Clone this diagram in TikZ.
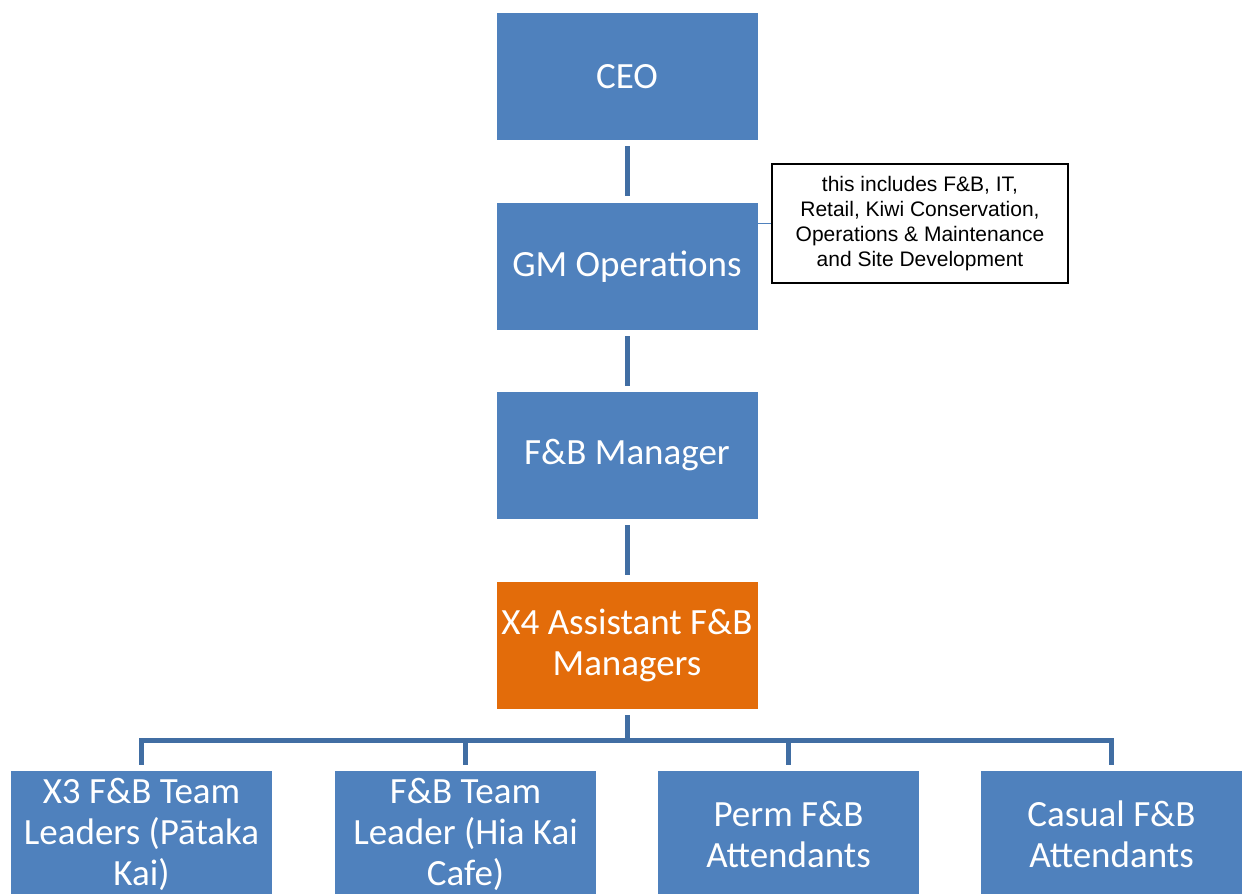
\documentclass[tikz,border=0pt]{standalone}
\usepackage{fontspec}
\setmainfont{Carlito}
\newfontfamily\arialf{Liberation Sans}
\definecolor{boxblue}{RGB}{79,129,189}
\definecolor{connblue}{RGB}{65,110,163}
\definecolor{boxorange}{RGB}{227,108,10}
\begin{document}
\begin{tikzpicture}[x=1pt,y=-1pt,
  orgbox/.style={rectangle,fill=boxblue,draw=none,minimum width=261pt,minimum height=127pt,
    inner sep=0pt,align=center,text=white,font=\fontsize{37}{41}\selectfont},
  conn/.style={draw=connblue,line width=5pt},
  notebox/.style={rectangle,draw=black,fill=white,line width=1.3pt,minimum width=296pt,minimum height=119pt,
    inner sep=0pt,align=center,font=\arialf\fontsize{21}{25}\selectfont}]
\useasboundingbox (0,0) rectangle (1248,894);
\clip (0,0) rectangle (1248,894);
\node[orgbox] (ceo) at (627,76.5) {CEO};
\node[orgbox] (gm) at (627,266.5) {GM Operations};
\node[orgbox] (fb) at (627,455.5) {F\&B Manager};
\node[orgbox,fill=boxorange] (x4) at (627,645.5) {X4 Assistant F\&B\\Managers};
\node[orgbox] (b1) at (141.5,834.5) {X3 F\&B Team\\Leaders (Pātaka\\Kai)};
\node[orgbox] (b2) at (465.5,834.5) {F\&B Team\\Leader (Hia Kai\\Cafe)};
\node[orgbox] (b3) at (788.5,834.5) {Perm F\&B\\Attendants};
\node[orgbox] (b4) at (1111.5,834.5) {Casual F\&B\\Attendants};
\node[notebox] (note) at (920,223.5) {this includes F\&B, IT,\\Retail, Kiwi Conservation,\\Operations \& Maintenance\\and Site Development};
\draw[draw=boxblue,line width=1.5pt] (gm.east |- note.west) -- (note.west);
\draw[conn] ([yshift=-6pt]ceo.south) -- ([yshift=7pt]gm.north);
\draw[conn] ([yshift=-6pt]gm.south) -- ([yshift=6pt]fb.north);
\draw[conn] ([yshift=-6pt]fb.south) -- ([yshift=7pt]x4.north);
\coordinate (bus) at (627,740);
\draw[conn] ([yshift=-6pt]x4.south) -- (bus);
\draw[conn] ([yshift=6pt]b1.north) -- (b1.north |- bus) -- (b4.north |- bus) -- ([yshift=6pt]b4.north);
\draw[conn] ([yshift=6pt]b2.north) -- (b2.north |- bus);
\draw[conn] ([yshift=6pt]b3.north) -- (b3.north |- bus);
\end{tikzpicture}
\end{document}
